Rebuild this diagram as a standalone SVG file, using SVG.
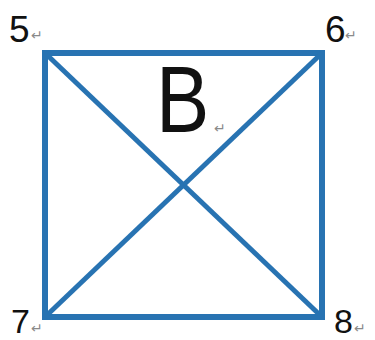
<svg xmlns="http://www.w3.org/2000/svg" width="375" height="340" viewBox="0 0 375 340">
<style>
.lbl{font-family:"Liberation Sans","DejaVu Sans",sans-serif;font-size:37px;fill:#111}
.ret{font-family:"DejaVu Sans",sans-serif;font-size:14px;fill:#8a8a8a}
.ln{stroke:#2873B2;stroke-width:6;fill:none}
</style>
<rect width="375" height="340" fill="#fff"/>
<g id="connectors">
<rect class="ln" x="45" y="53" width="277" height="264"/>
<line class="ln" x1="45" y1="53" x2="322" y2="317" style="stroke-width:5"/>
<line class="ln" x1="322" y1="53" x2="45" y2="317" style="stroke-width:5"/>
</g>
<g id="n5"><text class="lbl" x="9" y="42">5</text><text class="ret" x="31" y="40">↵</text></g>
<g id="n6"><text class="lbl" x="325" y="42">6</text><text class="ret" x="345" y="40">↵</text></g>
<g id="n7"><text class="lbl" x="11" y="333" style="font-size:34px">7</text><text class="ret" x="31" y="333">↵</text></g>
<g id="n8"><text class="lbl" x="334" y="333" style="font-size:34px">8</text><text class="ret" x="354" y="333">↵</text></g>
<g id="B"><text class="lbl" x="156" y="132" style="font-size:94px" transform="translate(156 132) scale(0.85 1) translate(-156 -132)">B</text><text class="ret" x="214" y="133">↵</text></g>
</svg>
